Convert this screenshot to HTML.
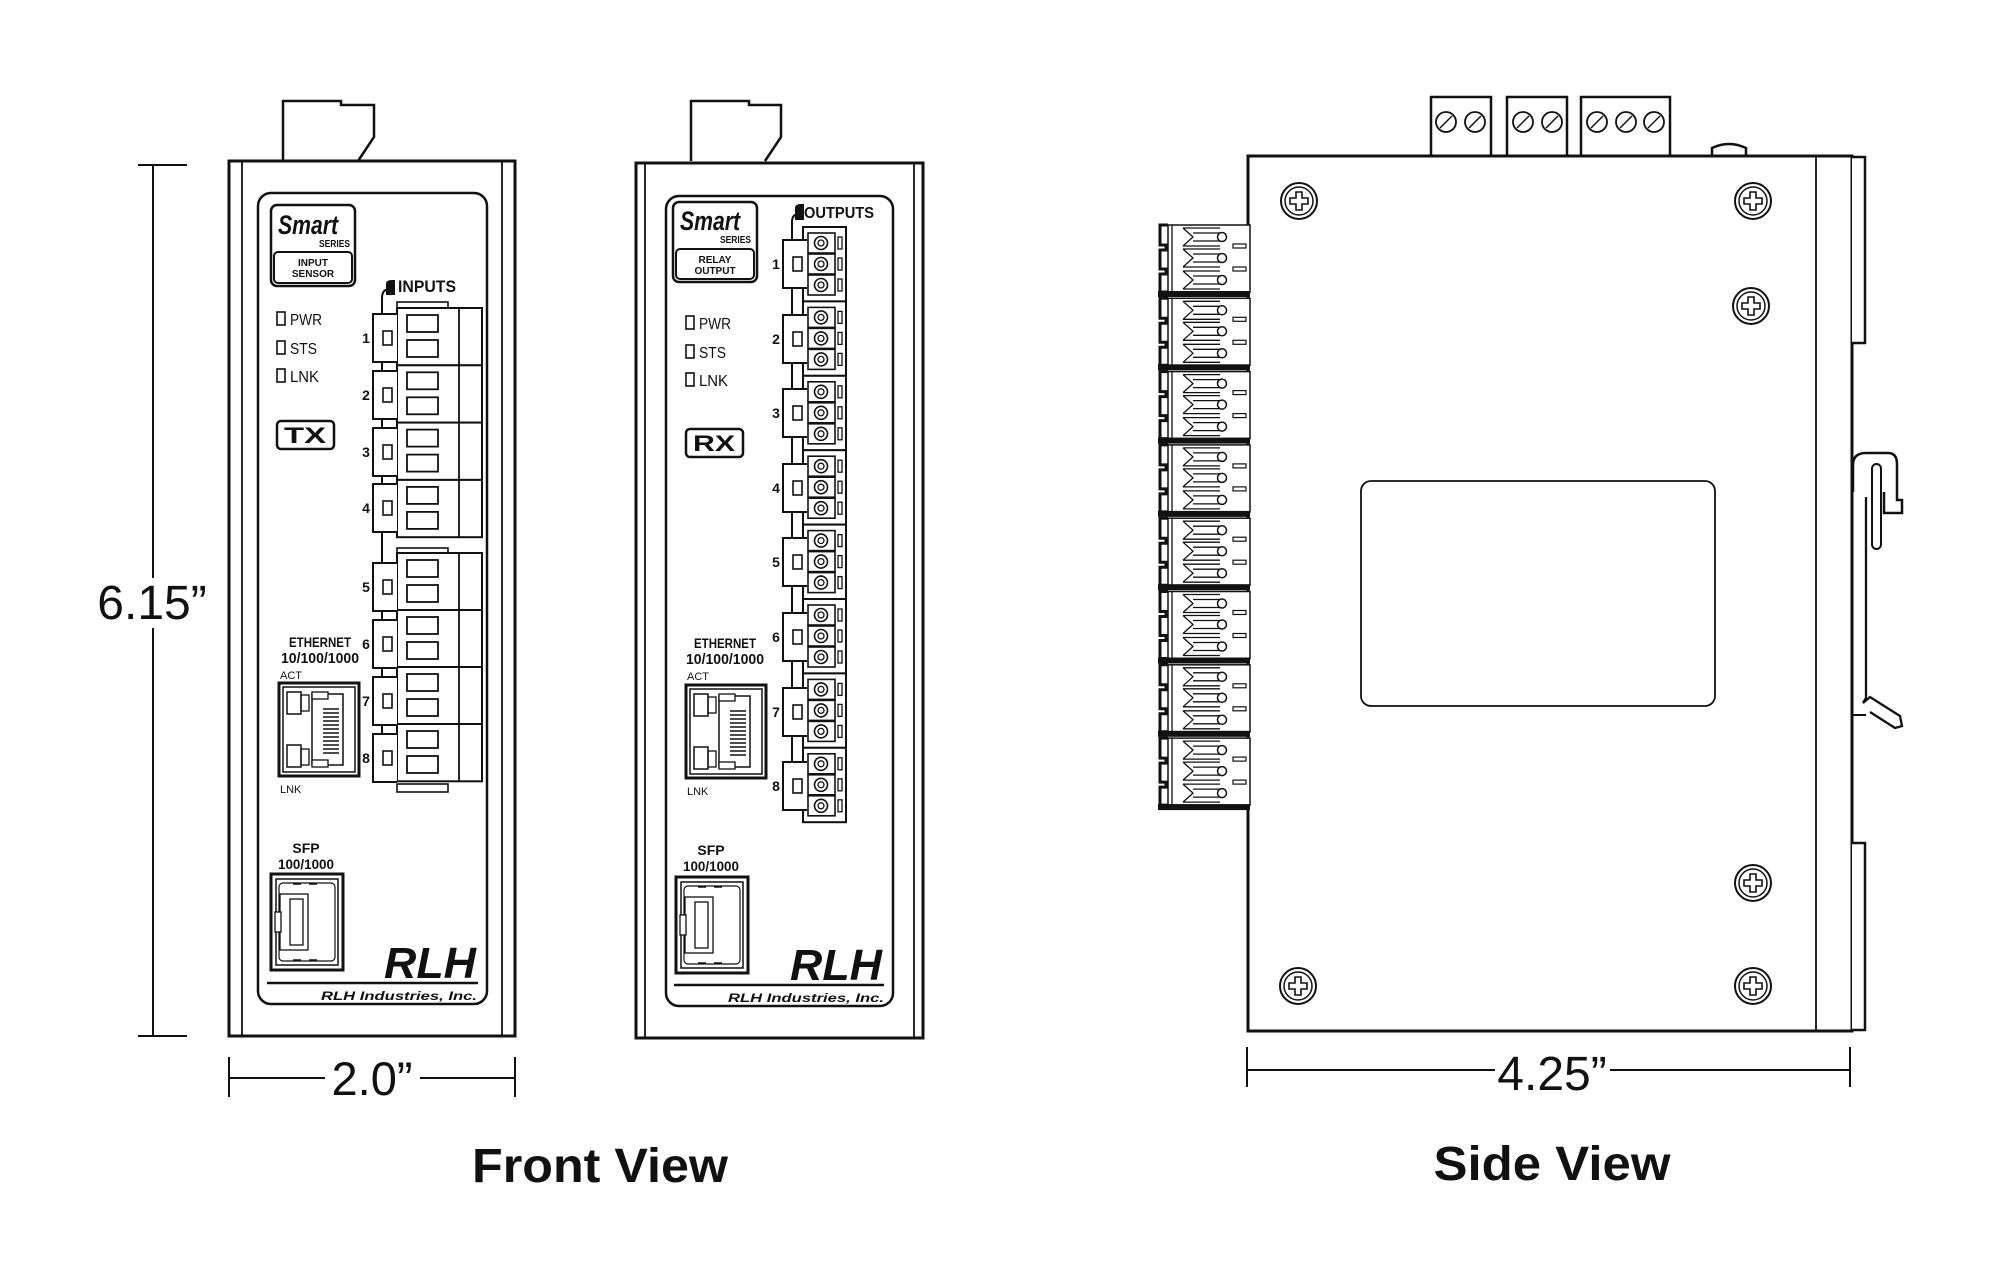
<!DOCTYPE html>
<html><head><meta charset="utf-8"><style>
html,body{margin:0;padding:0;background:#fff;}
svg{display:block;}
text{font-family:"Liberation Sans",Arial,sans-serif;fill:#111;}
</style></head><body>
<svg width="2000" height="1261" viewBox="0 0 2000 1261" xmlns="http://www.w3.org/2000/svg">
<defs>
  <g id="inrow">
    <rect x="0" y="0" width="85" height="57.3" fill="#fff" stroke="#111" stroke-width="2"/>
    <line x1="62" y1="0" x2="62" y2="57.3" stroke="#111" stroke-width="1.8"/>
    <rect x="10" y="7" width="31" height="17" fill="none" stroke="#111" stroke-width="1.8"/>
    <rect x="10" y="32" width="31" height="17" fill="none" stroke="#111" stroke-width="1.8"/>
  </g>
  <g id="nboxL">
    <path d="M24,-24 H0 V24 H24" fill="#fff" stroke="#111" stroke-width="2"/>
    <rect x="10" y="-7" width="9" height="14" fill="#fff" stroke="#111" stroke-width="1.6"/>
  </g>
  <g id="cell">
    <rect x="0" y="0" width="27" height="20" fill="#fff" stroke="#111" stroke-width="1.6"/>
    <circle cx="13" cy="10" r="6.5" fill="none" stroke="#111" stroke-width="1.6"/>
    <circle cx="13" cy="10" r="3" fill="none" stroke="#111" stroke-width="1.3"/>
    <rect x="30" y="4" width="4" height="12" fill="none" stroke="#111" stroke-width="1.3"/>
  </g>
  <g id="outgrp">
    <rect x="0" y="0" width="43" height="74.4" fill="#fff" stroke="#111" stroke-width="2"/>
    <use href="#cell" x="5" y="6"/>
    <use href="#cell" x="5" y="27"/>
    <use href="#cell" x="5" y="48"/>
  </g>
  <g id="screw">
    <circle r="18" fill="#fff" stroke="#111" stroke-width="2"/>
    <circle r="14" fill="none" stroke="#111" stroke-width="1.5"/>
    <path d="M-3,-9 H3 V-3 H9 V3 H3 V9 H-3 V3 H-9 V-3 H-3 Z" fill="none" stroke="#111" stroke-width="1.6"/>
  </g>
  <g id="prow">
    <path d="M25,-9 H62 M25,9 H62 M25,-9 L35,0 L25,9 M35,-4 H62 M35,4 H62" fill="none" stroke="#111" stroke-width="1.3"/>
    <circle cx="64" cy="0" r="4.5" fill="#fff" stroke="#111" stroke-width="1.5"/>
  </g>
  <g id="port">
    <rect x="10" y="0" width="82" height="67" fill="#fff" stroke="#111" stroke-width="1.5"/>
    <path d="M10,0 H2 V20 H8 V25 H2 V44 H8 V49 H2 V67 H10" fill="none" stroke="#111" stroke-width="3"/>
    <line x1="14" y1="0" x2="14" y2="67" stroke="#111" stroke-width="1.3"/>
    <use href="#prow" y="12"/>
    <use href="#prow" y="33"/>
    <use href="#prow" y="55"/>
    <rect x="75" y="19" width="13" height="4" fill="none" stroke="#111" stroke-width="1.2"/>
    <rect x="75" y="42" width="13" height="4" fill="none" stroke="#111" stroke-width="1.2"/>
    <rect x="0" y="66" width="92" height="6" fill="#111"/>
  </g>
  <g id="rj45">
    <rect x="0" y="0" width="80" height="93" fill="#fff" stroke="#111" stroke-width="3"/>
    <rect x="4" y="4" width="72" height="85" fill="none" stroke="#111" stroke-width="1.5"/>
    <rect x="33" y="11" width="31" height="71" fill="none" stroke="#111" stroke-width="1.5"/>
    <path d="M44,26 H60 M44,30 H60 M44,34 H60 M44,38 H60 M44,42 H60 M44,46 H60 M44,50 H60 M44,54 H60 M44,58 H60 M44,62 H60 M44,66 H60 M44,70 H60" stroke="#111" stroke-width="1.6"/>
    <rect x="8" y="9" width="14" height="22" fill="none" stroke="#111" stroke-width="1.5"/>
    <rect x="8" y="62" width="14" height="22" fill="none" stroke="#111" stroke-width="1.5"/>
    <rect x="22" y="12" width="8" height="16" fill="none" stroke="#111" stroke-width="1.3"/>
    <rect x="22" y="66" width="8" height="16" fill="none" stroke="#111" stroke-width="1.3"/>
    <rect x="33" y="9" width="16" height="7" fill="#fff" stroke="#111" stroke-width="1.3"/>
    <rect x="33" y="77" width="16" height="7" fill="#fff" stroke="#111" stroke-width="1.3"/>
  </g>
  <g id="sfp">
    <rect x="0" y="0" width="72" height="96" fill="#fff" stroke="#111" stroke-width="3"/>
    <rect x="5" y="5" width="62" height="86" fill="none" stroke="#111" stroke-width="1.5"/>
    <rect x="8" y="9" width="56" height="78" rx="4" fill="none" stroke="#111" stroke-width="1.2"/>
    <rect x="9" y="20" width="28" height="56" fill="none" stroke="#111" stroke-width="1.3"/>
    <rect x="19" y="25" width="13" height="46" fill="none" stroke="#111" stroke-width="1.3"/>
    <rect x="4" y="38" width="6" height="20" fill="#fff" stroke="#111" stroke-width="1.3"/>
    <path d="M22,10 H30 M38,10 H46 M22,86 H30 M38,86 H46" stroke="#111" stroke-width="1.5"/>
  </g>
</defs>

<!-- ===== dimension left ===== -->
<g stroke="#111" stroke-width="2" fill="none">
  <line x1="153" y1="165" x2="153" y2="1036"/>
  <line x1="138" y1="165" x2="187" y2="165"/>
  <line x1="138" y1="1036" x2="187" y2="1036"/>
  <line x1="229" y1="1078" x2="515" y2="1078"/>
  <line x1="229" y1="1057" x2="229" y2="1097"/>
  <line x1="515" y1="1057" x2="515" y2="1097"/>
</g>
<rect x="95" y="578" width="115" height="50" fill="#fff"/>
<text x="152" y="619" font-size="48" text-anchor="middle">6.15”</text>
<rect x="325" y="1055" width="95" height="45" fill="#fff"/>
<text x="372" y="1095" font-size="47" text-anchor="middle">2.0”</text>

<!-- ===== LEFT UNIT ===== -->
<path d="M283,161 V101 H341 V105 H374 V137 L358,161" fill="#fff" stroke="#111" stroke-width="2.5"/>
<rect x="229" y="161" width="286" height="875" fill="#fff" stroke="#111" stroke-width="3"/>
<line x1="242" y1="161" x2="242" y2="1036" stroke="#111" stroke-width="1.8"/>
<line x1="502" y1="161" x2="502" y2="1036" stroke="#111" stroke-width="1.8"/>
<rect x="258" y="193" width="229" height="811" rx="13" fill="#fff" stroke="#111" stroke-width="2.5"/>
<rect x="271" y="205" width="84" height="81" rx="6" fill="none" stroke="#111" stroke-width="2.5"/>
<rect x="274" y="252" width="78" height="31" rx="4" fill="none" stroke="#111" stroke-width="2"/>
<text x="278" y="234" font-size="27" font-weight="bold" font-style="italic" textLength="60" lengthAdjust="spacingAndGlyphs">Smart</text>
<text x="350" y="247" font-size="10" font-weight="bold" text-anchor="end" textLength="31" lengthAdjust="spacingAndGlyphs">SERIES</text>
<text x="313" y="266" font-size="10" font-weight="bold" text-anchor="middle">INPUT</text>
<text x="313" y="277" font-size="10" font-weight="bold" text-anchor="middle">SENSOR</text>
<g fill="#fff" stroke="#111" stroke-width="1.6">
  <rect x="277" y="312" width="8" height="13"/><rect x="277" y="341" width="8" height="13"/><rect x="277" y="369" width="8" height="13"/>
</g>
<text x="290" y="325" font-size="16" textLength="32" lengthAdjust="spacingAndGlyphs">PWR</text>
<text x="290" y="354" font-size="16" textLength="27" lengthAdjust="spacingAndGlyphs">STS</text>
<text x="290" y="382" font-size="16" textLength="29" lengthAdjust="spacingAndGlyphs">LNK</text>
<rect x="277" y="421" width="57" height="28" rx="4" fill="none" stroke="#111" stroke-width="2.5"/>
<text x="305" y="443" font-size="22" font-weight="bold" text-anchor="middle" textLength="42" lengthAdjust="spacingAndGlyphs">TX</text>
<!-- inputs -->
<path d="M382,780 V298 Q382,289 390,289 L393,289" fill="none" stroke="#111" stroke-width="2"/>
<path d="M386,284 Q386,280 392,280 H395 V295 H386 Z" fill="#111"/>
<text x="398" y="292" font-size="17" font-weight="bold" textLength="58" lengthAdjust="spacingAndGlyphs">INPUTS</text>
<rect x="397" y="302" width="51" height="7" fill="#fff" stroke="#111" stroke-width="1.6"/>
<rect x="397" y="784" width="51" height="8" fill="#fff" stroke="#111" stroke-width="1.6"/>
<use href="#inrow" x="397" y="308"/><use href="#inrow" x="397" y="365.3"/><use href="#inrow" x="397" y="422.6"/><use href="#inrow" x="397" y="479.9"/>
<rect x="397" y="548" width="51" height="5" fill="#fff" stroke="#111" stroke-width="1.6"/>
<use href="#inrow" x="397" y="553"/><use href="#inrow" x="397" y="610"/><use href="#inrow" x="397" y="667"/><use href="#inrow" x="397" y="724"/>
<use href="#nboxL" x="373" y="338"/><use href="#nboxL" x="373" y="395"/><use href="#nboxL" x="373" y="452"/><use href="#nboxL" x="373" y="508"/>
<use href="#nboxL" x="373" y="587"/><use href="#nboxL" x="373" y="644"/><use href="#nboxL" x="373" y="701"/><use href="#nboxL" x="373" y="758"/>
<g font-size="14" font-weight="bold" text-anchor="middle">
<text x="366" y="343">1</text><text x="366" y="400">2</text><text x="366" y="457">3</text><text x="366" y="513">4</text>
<text x="366" y="592">5</text><text x="366" y="649">6</text><text x="366" y="706">7</text><text x="366" y="763">8</text>
</g>
<text x="320" y="647" font-size="14" font-weight="bold" text-anchor="middle" textLength="62" lengthAdjust="spacingAndGlyphs">ETHERNET</text>
<text x="320" y="663" font-size="15" font-weight="bold" text-anchor="middle" textLength="78" lengthAdjust="spacingAndGlyphs">10/100/1000</text>
<text x="280" y="679" font-size="11">ACT</text>
<use href="#rj45" x="279" y="683"/>
<text x="280" y="793" font-size="11">LNK</text>
<text x="306" y="853" font-size="14" font-weight="bold" text-anchor="middle">SFP</text>
<text x="306" y="869" font-size="14" font-weight="bold" text-anchor="middle" textLength="56" lengthAdjust="spacingAndGlyphs">100/1000</text>
<use href="#sfp" x="271" y="874"/>
<text x="476" y="978" font-size="44" font-weight="bold" font-style="italic" font-family="Liberation Serif, serif" text-anchor="end" textLength="92" lengthAdjust="spacingAndGlyphs">RLH</text>
<line x1="267" y1="983" x2="478" y2="983" stroke="#111" stroke-width="2.5"/>
<text x="477" y="1000" font-size="12" font-weight="bold" font-style="italic" text-anchor="end" textLength="156" lengthAdjust="spacingAndGlyphs">RLH Industries, Inc.</text>

<!-- ===== RIGHT FRONT UNIT ===== -->
<path d="M691,161 V101 H749 V105 H781 V137 L765,161" fill="#fff" stroke="#111" stroke-width="2.5"/>
<rect x="636" y="163" width="287" height="875" fill="#fff" stroke="#111" stroke-width="3"/>
<line x1="645" y1="163" x2="645" y2="1038" stroke="#111" stroke-width="1.8"/>
<line x1="914" y1="163" x2="914" y2="1038" stroke="#111" stroke-width="1.8"/>
<rect x="666" y="196" width="227" height="810" rx="13" fill="#fff" stroke="#111" stroke-width="2.5"/>
<rect x="673" y="202" width="84" height="80" rx="6" fill="none" stroke="#111" stroke-width="2.5"/>
<rect x="676" y="249" width="78" height="30" rx="4" fill="none" stroke="#111" stroke-width="2"/>
<text x="680" y="230" font-size="27" font-weight="bold" font-style="italic" textLength="60" lengthAdjust="spacingAndGlyphs">Smart</text>
<text x="751" y="243" font-size="10" font-weight="bold" text-anchor="end" textLength="31" lengthAdjust="spacingAndGlyphs">SERIES</text>
<text x="715" y="263" font-size="10" font-weight="bold" text-anchor="middle">RELAY</text>
<text x="715" y="274" font-size="10" font-weight="bold" text-anchor="middle">OUTPUT</text>
<g fill="#fff" stroke="#111" stroke-width="1.6">
  <rect x="686" y="316" width="8" height="13"/><rect x="686" y="345" width="8" height="13"/><rect x="686" y="373" width="8" height="13"/>
</g>
<text x="699" y="329" font-size="16" textLength="32" lengthAdjust="spacingAndGlyphs">PWR</text>
<text x="699" y="358" font-size="16" textLength="27" lengthAdjust="spacingAndGlyphs">STS</text>
<text x="699" y="386" font-size="16" textLength="29" lengthAdjust="spacingAndGlyphs">LNK</text>
<rect x="686" y="429" width="57" height="28" rx="4" fill="none" stroke="#111" stroke-width="2.5"/>
<text x="714" y="451" font-size="22" font-weight="bold" text-anchor="middle" textLength="42" lengthAdjust="spacingAndGlyphs">RX</text>
<!-- outputs -->
<path d="M792,811 V222 Q792,214 799,214" fill="none" stroke="#111" stroke-width="2"/>
<path d="M795,208 Q795,204 801,204 H804 V220 H795 Z" fill="#111"/>
<text x="804" y="218" font-size="16" font-weight="bold" textLength="70" lengthAdjust="spacingAndGlyphs">OUTPUTS</text>
<use href="#outgrp" x="803" y="227"/><use href="#outgrp" x="803" y="301.4"/><use href="#outgrp" x="803" y="375.8"/><use href="#outgrp" x="803" y="450.2"/>
<use href="#outgrp" x="803" y="524.6"/><use href="#outgrp" x="803" y="599"/><use href="#outgrp" x="803" y="673.4"/><use href="#outgrp" x="803" y="747.8"/>
<use href="#nboxL" x="783" y="264" /><use href="#nboxL" x="783" y="339"/><use href="#nboxL" x="783" y="413"/><use href="#nboxL" x="783" y="488"/>
<use href="#nboxL" x="783" y="562"/><use href="#nboxL" x="783" y="637"/><use href="#nboxL" x="783" y="712"/><use href="#nboxL" x="783" y="786"/>
<g font-size="14" font-weight="bold" text-anchor="middle">
<text x="776" y="269">1</text><text x="776" y="344">2</text><text x="776" y="418">3</text><text x="776" y="493">4</text>
<text x="776" y="567">5</text><text x="776" y="642">6</text><text x="776" y="717">7</text><text x="776" y="791">8</text>
</g>
<text x="725" y="648" font-size="14" font-weight="bold" text-anchor="middle" textLength="62" lengthAdjust="spacingAndGlyphs">ETHERNET</text>
<text x="725" y="664" font-size="15" font-weight="bold" text-anchor="middle" textLength="78" lengthAdjust="spacingAndGlyphs">10/100/1000</text>
<text x="687" y="680" font-size="11">ACT</text>
<use href="#rj45" x="686" y="685"/>
<text x="687" y="795" font-size="11">LNK</text>
<text x="711" y="855" font-size="14" font-weight="bold" text-anchor="middle">SFP</text>
<text x="711" y="871" font-size="14" font-weight="bold" text-anchor="middle" textLength="56" lengthAdjust="spacingAndGlyphs">100/1000</text>
<use href="#sfp" x="676" y="877"/>
<text x="882" y="980" font-size="44" font-weight="bold" font-style="italic" font-family="Liberation Serif, serif" text-anchor="end" textLength="92" lengthAdjust="spacingAndGlyphs">RLH</text>
<line x1="674" y1="985" x2="884" y2="985" stroke="#111" stroke-width="2.5"/>
<text x="884" y="1002" font-size="12" font-weight="bold" font-style="italic" text-anchor="end" textLength="156" lengthAdjust="spacingAndGlyphs">RLH Industries, Inc.</text>

<text x="600" y="1182" font-size="48" font-weight="bold" text-anchor="middle" textLength="256" lengthAdjust="spacingAndGlyphs">Front View</text>

<!-- ===== SIDE VIEW ===== -->
<g fill="#fff" stroke="#111" stroke-width="2.5">
  <path d="M1431,157 V97 H1491 V157"/>
  <path d="M1507,157 V97 H1567 V157"/>
  <path d="M1581,157 V97 H1670 V157"/>
  <path d="M1712,157 V148 Q1729,140 1746,148 V157"/>
</g>
<g fill="#fff" stroke="#111" stroke-width="1.8">
  <circle cx="1446" cy="122" r="10"/><circle cx="1475" cy="122" r="10"/>
  <circle cx="1523" cy="122" r="10"/><circle cx="1552" cy="122" r="10"/>
  <circle cx="1597" cy="122" r="10"/><circle cx="1626" cy="122" r="10"/><circle cx="1654" cy="122" r="10"/>
</g>
<g stroke="#111" stroke-width="1.5">
  <line x1="1440" y1="128" x2="1452" y2="116"/><line x1="1469" y1="128" x2="1481" y2="116"/>
  <line x1="1517" y1="128" x2="1529" y2="116"/><line x1="1546" y1="128" x2="1558" y2="116"/>
  <line x1="1591" y1="128" x2="1603" y2="116"/><line x1="1620" y1="128" x2="1632" y2="116"/><line x1="1648" y1="128" x2="1660" y2="116"/>
</g>
<rect x="1248" y="156" width="604" height="875" fill="#fff" stroke="#111" stroke-width="3"/>
<line x1="1816" y1="156" x2="1816" y2="1031" stroke="#111" stroke-width="1.8"/>
<path d="M1852,157 H1865 V343 H1852" fill="#fff" stroke="#111" stroke-width="2.5"/>
<path d="M1852,843 H1865 V1030 H1852" fill="#fff" stroke="#111" stroke-width="2.5"/>
<path d="M1853,492 V465 Q1853,453 1866,453 H1888 Q1897,453 1897,464 V500 H1902 V513 H1884 V492" fill="#fff" stroke="#111" stroke-width="2.5"/>
<rect x="1872" y="464" width="9" height="85" rx="4.5" fill="#fff" stroke="#111" stroke-width="2"/>
<path d="M1866,497 V698 L1863,703 L1870,697 L1900,716 L1902,726 L1895,728 L1870,712" fill="none" stroke="#111" stroke-width="2.3"/>
<line x1="1852" y1="715" x2="1866" y2="715" stroke="#111" stroke-width="2"/>
<use href="#screw" x="1299" y="201"/><use href="#screw" x="1753" y="201"/>
<use href="#screw" x="1751" y="306"/><use href="#screw" x="1753" y="883"/>
<use href="#screw" x="1298" y="986"/><use href="#screw" x="1753" y="986"/>
<rect x="1361" y="481" width="354" height="225" rx="10" fill="none" stroke="#111" stroke-width="1.8"/>
<use href="#port" x="1158" y="225"/><use href="#port" x="1158" y="298.3"/><use href="#port" x="1158" y="371.6"/><use href="#port" x="1158" y="444.9"/>
<use href="#port" x="1158" y="518.2"/><use href="#port" x="1158" y="591.5"/><use href="#port" x="1158" y="664.8"/><use href="#port" x="1158" y="738.1"/>
<g stroke="#111" stroke-width="2">
  <line x1="1247" y1="1070" x2="1850" y2="1070"/>
  <line x1="1247" y1="1047" x2="1247" y2="1087"/>
  <line x1="1850" y1="1047" x2="1850" y2="1087"/>
</g>
<rect x="1495" y="1045" width="115" height="50" fill="#fff"/>
<text x="1552" y="1090" font-size="48" text-anchor="middle">4.25”</text>
<text x="1552" y="1180" font-size="48" font-weight="bold" text-anchor="middle" textLength="237" lengthAdjust="spacingAndGlyphs">Side View</text>
</svg>
</body></html>
